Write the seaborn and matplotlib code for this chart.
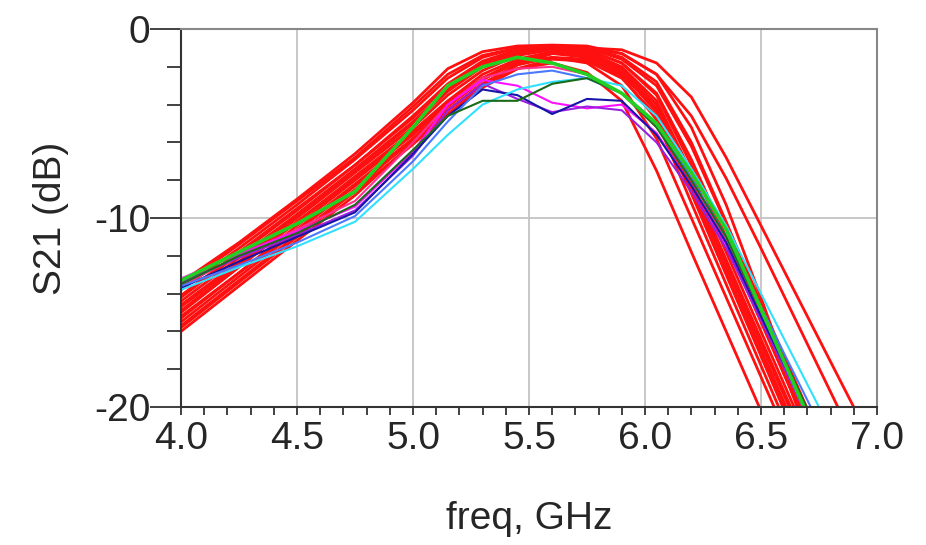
import numpy as np
import pandas as pd
import seaborn as sns
import matplotlib.pyplot as plt
from matplotlib.ticker import MultipleLocator, FormatStrFormatter

#%%
# S21 sweeps (dB), common frequency grid (GHz)
freq = [4.0, 4.25, 4.5, 4.75, 5.0, 5.15, 5.3, 5.45, 5.6, 5.75, 5.9,
        6.05, 6.2, 6.35, 6.5, 6.65, 6.8, 6.95]

# red Monte Carlo runs
r01 = [-13.4, -11.3, -9.0, -6.6, -3.9, -2.1, -1.2, -0.9, -0.85, -0.9, -1.3, -2.4, -5.2, -9.3, -14.2, -19.4, -24.6, -29.8]
r02 = [-13.8, -11.6, -9.3, -6.9, -4.3, -2.6, -1.5, -1.0, -0.9, -1.0, -1.6, -3.0, -6.2, -10.3, -14.5, -18.7, -22.9, -27.0]
r03 = [-14.1, -11.8, -9.5, -7.2, -4.6, -2.9, -1.7, -1.1, -0.95, -1.1, -1.8, -3.4, -6.9, -11.0, -15.2, -19.4, -23.6, -27.8]
r04 = [-14.4, -12.1, -9.8, -7.4, -4.9, -3.2, -1.9, -1.2, -1.0, -1.2, -2.0, -3.8, -7.6, -11.8, -16.0, -20.2, -24.4, -28.6]
r05 = [-14.7, -12.4, -10.0, -7.6, -5.2, -3.5, -2.2, -1.4, -1.1, -1.3, -2.2, -4.2, -8.2, -12.4, -16.6, -20.8, -25.0, -29.0]
r06 = [-15.0, -12.6, -10.2, -7.8, -5.4, -3.8, -2.4, -1.6, -1.2, -1.4, -2.3, -4.4, -8.6, -12.9, -17.2, -21.5, -25.8, -30.0]
r07 = [-15.3, -12.9, -10.4, -8.0, -5.6, -4.0, -2.6, -1.7, -1.3, -1.5, -2.5, -4.8, -9.2, -13.5, -17.8, -22.1, -26.4, -30.7]
r08 = [-15.2, -12.9, -10.6, -8.2, -5.8, -4.3, -3.0, -2.1, -1.8, -2.3, -3.8, -7.5, -11.8, -16.0, -20.2, -24.4, -28.6, -32.8]
r09 = [-14.9, -12.5, -10.2, -7.9, -5.5, -3.9, -2.6, -1.8, -1.5, -1.8, -3.0, -5.8, -10.0, -14.2, -18.4, -22.6, -26.8, -31.0]
r10 = [-16.0, -13.6, -11.2, -8.8, -6.0, -4.3, -2.9, -1.9, -1.3, -1.0, -1.1, -1.8, -3.6, -6.8, -10.4, -14.0, -17.6, -21.2]
r11 = [-15.7, -13.3, -10.9, -8.5, -5.8, -4.1, -2.7, -1.7, -1.2, -1.0, -1.3, -2.4, -4.6, -7.9, -11.6, -15.4, -19.2, -23.0]
r12 = [-14.2, -11.9, -9.6, -7.2, -4.7, -3.0, -1.8, -1.2, -1.0, -1.2, -2.1, -4.0, -8.0, -12.2, -16.4, -20.6, -24.8, -29.0]
r13 = [-15.5, -13.1, -10.7, -8.3, -5.9, -4.3, -2.9, -1.9, -1.5, -1.6, -2.4, -4.3, -8.3, -12.6, -16.9, -21.2, -25.5, -29.8]
r14 = [-14.6, -12.3, -9.9, -7.5, -5.0, -3.3, -2.0, -1.3, -1.05, -1.1, -1.8, -3.5, -7.2, -11.3, -15.5, -19.7, -23.9, -28.0]
r15 = [-15.8, -13.4, -11.0, -8.6, -6.1, -4.5, -3.1, -2.1, -1.6, -1.7, -2.6, -4.6, -8.7, -13.0, -17.3, -21.6, -25.9, -30.2]
r16 = [-13.6, -11.4, -9.1, -6.8, -4.1, -2.4, -1.4, -1.0, -0.9, -0.95, -1.5, -2.8, -6.0, -10.2, -14.6, -19.8, -25.0, -30.2]
red_runs = [r01, r02, r03, r04, r05, r06, r07, r08, r09, r10, r11, r12, r13, r14, r15, r16]

# the other coloured runs
s_pink    = [-13.6, -12.0, -10.6, -9.1, -6.0, -4.0, -2.6, -2.1, -2.0, -2.4, -3.4, -5.2, -8.0, -11.2, -15.2, -19.2, -23.2, -27.2]
s_magenta = [-13.2, -11.9, -10.7, -9.4, -6.5, -4.0, -2.7, -3.0, -3.9, -4.2, -4.0, -5.5, -8.3, -11.4, -15.3, -19.2, -23.1, -27.0]
s_purple  = [-13.4, -12.1, -10.9, -9.6, -6.7, -4.3, -2.9, -3.7, -4.4, -4.1, -4.3, -6.0, -8.6, -11.6, -15.4, -19.2, -23.0, -26.8]
s_navy    = [-13.7, -12.3, -11.0, -9.7, -6.6, -4.6, -3.2, -3.5, -4.5, -3.7, -3.8, -5.6, -8.3, -11.3, -15.2, -19.0, -22.8, -26.6]
s_blue    = [-13.6, -12.5, -11.3, -9.9, -7.0, -4.9, -3.0, -2.4, -2.2, -2.6, -3.4, -5.0, -7.9, -11.0, -14.7, -18.4, -22.1, -25.8]
s_cyan    = [-13.8, -12.6, -11.5, -10.2, -7.4, -5.6, -4.0, -3.2, -2.8, -2.6, -3.0, -4.6, -7.4, -10.4, -14.0, -17.6, -21.2, -24.8]
s_dkgreen = [-13.5, -12.0, -10.8, -9.3, -6.4, -4.6, -3.8, -3.8, -2.9, -2.6, -3.4, -5.2, -8.0, -11.0, -14.9, -18.8, -22.7, -26.6]
s_green   = [-13.3, -11.8, -10.3, -8.6, -5.2, -3.0, -2.0, -1.5, -1.8, -2.4, -3.4, -5.0, -7.6, -10.6, -14.8, -19.0, -23.2, -27.4]

other_names = ["pink", "magenta", "purple", "navy", "blue", "cyan", "dkgreen", "green"]
other_runs = [s_pink, s_magenta, s_purple, s_navy, s_blue, s_cyan, s_dkgreen, s_green]
other_colors = ["#ff3090", "#ff10ff", "#9a20e0", "#1515a8", "#4a78ff", "#30e0ff", "#1a6a1a", "#22d022"]

#%%
df_red = pd.DataFrame({
    "freq": freq * len(red_runs),
    "s21": np.concatenate(red_runs),
    "run": np.repeat(np.arange(len(red_runs)), len(freq)),
})
df_other = pd.DataFrame({
    "freq": freq * len(other_runs),
    "s21": np.concatenate(other_runs),
    "run": np.repeat(other_names, len(freq)),
})

sns.set_style("white")
plt.rcParams['font.family'] = ['Liberation Sans', 'DejaVu Sans']
plt.rcParams['axes.unicode_minus'] = False

fig = plt.figure(figsize=(9.26, 5.45), dpi=100)
ax = fig.add_axes([0.1955, 0.2532, 0.7515, 0.6936])

sns.lineplot(data=df_red, x="freq", y="s21", units="run", estimator=None,
             color="#ff1010", lw=2.0, sort=False, ax=ax)
sns.lineplot(data=df_other, x="freq", y="s21", hue="run", estimator=None,
             palette=dict(zip(other_names, other_colors)), lw=1.5,
             sort=False, legend=False, ax=ax)
# green run is drawn thicker
ax.lines[-1].set_linewidth(2.6)

ax.set_xlim(4.0, 7.0)
ax.set_ylim(-20, 0)
ax.xaxis.set_major_locator(MultipleLocator(0.5))
ax.xaxis.set_minor_locator(MultipleLocator(0.1))
ax.xaxis.set_major_formatter(FormatStrFormatter('%.1f'))
ax.yaxis.set_major_locator(MultipleLocator(10))
ax.yaxis.set_minor_locator(MultipleLocator(2))

ax.grid(True, which="major", color="#c4c4c4", lw=1.3)
ax.tick_params(axis="x", which="both", direction="out", length=6, width=1.3,
               color="#333333", labelsize=28, pad=4, bottom=True)
ax.tick_params(axis="y", which="major", direction="out", length=22, width=1.3,
               color="#333333", labelsize=28, pad=0, left=True)
ax.tick_params(axis="y", which="minor", direction="out", length=10, width=1.3,
               color="#333333", left=True)

for side in ["left", "bottom"]:
    ax.spines[side].set_color("#333333")
    ax.spines[side].set_linewidth(1.5)
for side in ["top", "right"]:
    ax.spines[side].set_color("#888888")
    ax.spines[side].set_linewidth(1.5)

ax.set_xlabel("freq, GHz", fontsize=28, labelpad=32)
ax.set_ylabel("S21 (dB)", fontsize=28, labelpad=18)

fig.savefig("out.png", dpi=100)
